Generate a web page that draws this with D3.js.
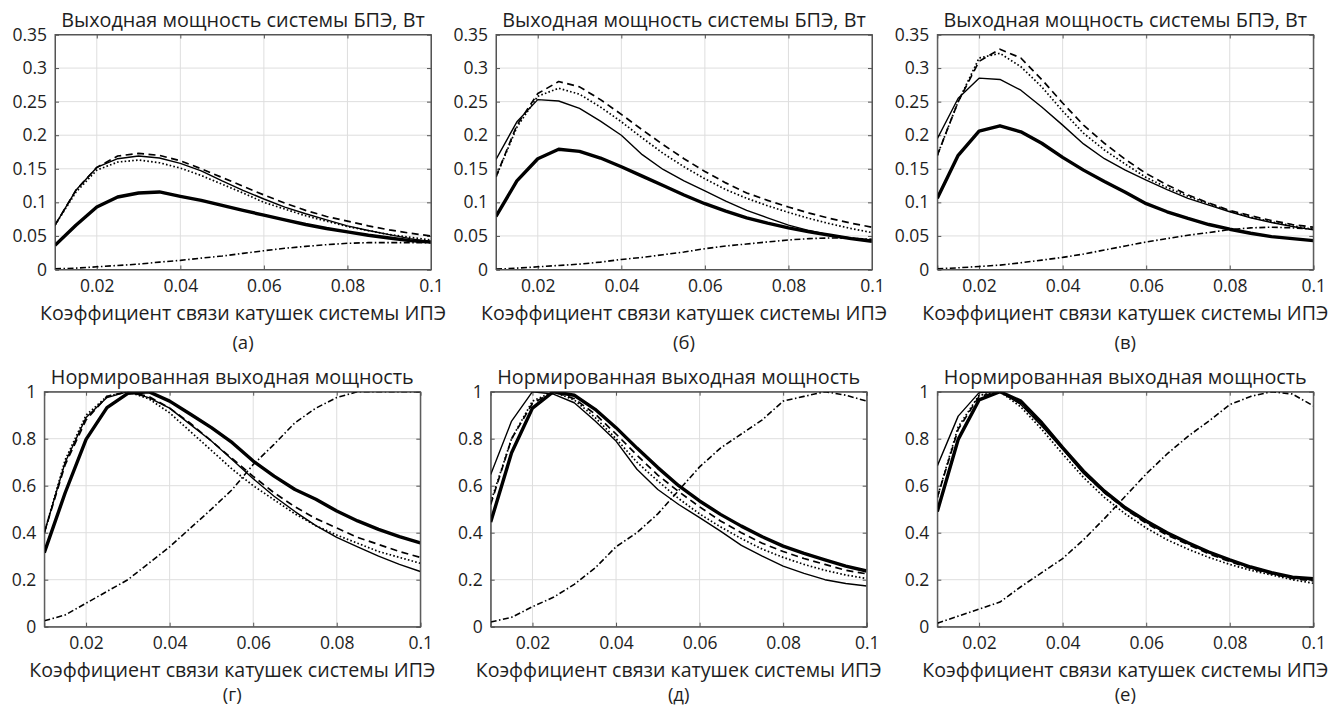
<!DOCTYPE html>
<html>
<head>
<meta charset="utf-8">
<script src="https://cdn.jsdelivr.net/npm/d3@7"></script>
<style>
  body{margin:0;background:#fff;}
  text{font-family:'Open Sans',sans-serif;fill:#1e1e1e;}
</style>
</head>
<body>
<div class="canvas"></div>
<script>
// coupling coefficient (x axis), same for all panels
const kValues=[0.01,0.015,0.02,0.025,0.03,0.035,0.04,0.045,0.05,0.055,0.06,0.065,0.07,0.075,0.08,0.085,0.09,0.095,0.1];

// output power, W  (a)
const aThick=[0.036,0.066,0.093,0.108,0.114,0.1155,0.109,0.103,0.0955,0.088,0.081,0.074,0.067,0.061,0.056,0.051,0.047,0.043,0.041];
const aThin=[0.066,0.118,0.152,0.165,0.169,0.166,0.158,0.147,0.132,0.118,0.105,0.093,0.083,0.074,0.065,0.058,0.052,0.046,0.041];
const aDash=[0.066,0.118,0.152,0.169,0.173,0.170,0.162,0.150,0.137,0.124,0.111,0.099,0.088,0.079,0.072,0.065,0.059,0.054,0.050];
const aDot=[0.066,0.115,0.148,0.160,0.163,0.159,0.151,0.140,0.127,0.114,0.100,0.090,0.080,0.072,0.064,0.058,0.052,0.048,0.044];
const aDashDot=[0.001,0.002,0.004,0.006,0.008,0.011,0.0136,0.017,0.020,0.024,0.028,0.0316,0.0344,0.037,0.039,0.040,0.040,0.040,0.040];

// output power, W  (б)
const bThick=[0.079,0.132,0.165,0.179,0.176,0.166,0.153,0.139,0.125,0.111,0.098,0.087,0.077,0.069,0.062,0.056,0.051,0.046,0.042];
const bThin=[0.164,0.220,0.253,0.251,0.240,0.221,0.200,0.171,0.149,0.132,0.117,0.102,0.088,0.077,0.066,0.058,0.051,0.047,0.044];
const bDash=[0.138,0.215,0.262,0.280,0.272,0.253,0.231,0.208,0.186,0.165,0.146,0.129,0.114,0.103,0.093,0.084,0.076,0.069,0.063];
const bDot=[0.138,0.212,0.258,0.270,0.261,0.242,0.220,0.196,0.173,0.153,0.135,0.119,0.106,0.095,0.085,0.076,0.068,0.061,0.055];
const bDashDot=[0.0005,0.002,0.004,0.006,0.008,0.011,0.015,0.018,0.022,0.026,0.031,0.035,0.038,0.041,0.044,0.046,0.047,0.0465,0.045];

// output power, W  (в)
const cThick=[0.106,0.170,0.206,0.214,0.205,0.188,0.167,0.148,0.131,0.115,0.098,0.086,0.076,0.067,0.060,0.054,0.049,0.046,0.043];
const cThin=[0.195,0.255,0.285,0.283,0.267,0.242,0.215,0.187,0.165,0.148,0.133,0.119,0.106,0.096,0.086,0.077,0.070,0.064,0.059];
const cDash=[0.17,0.25,0.310,0.328,0.315,0.283,0.248,0.215,0.188,0.164,0.143,0.126,0.111,0.099,0.088,0.080,0.073,0.067,0.063];
const cDot=[0.17,0.25,0.315,0.322,0.302,0.272,0.236,0.203,0.178,0.157,0.137,0.122,0.109,0.098,0.087,0.078,0.071,0.065,0.060];
const cDashDot=[0.001,0.0025,0.0045,0.0065,0.010,0.014,0.018,0.023,0.029,0.035,0.041,0.046,0.051,0.055,0.0595,0.062,0.063,0.062,0.060];

// normalized output power  (г)
const dThick=[0.315,0.57,0.797,0.932,0.993,1.0,0.96,0.904,0.847,0.783,0.705,0.641,0.584,0.542,0.492,0.45,0.414,0.383,0.357];
const dThin=[0.40,0.70,0.89,0.975,1.0,0.975,0.93,0.86,0.79,0.71,0.63,0.555,0.49,0.43,0.38,0.34,0.30,0.265,0.235];
const dDash=[0.40,0.69,0.88,0.98,1.0,0.98,0.93,0.865,0.79,0.715,0.64,0.57,0.51,0.46,0.42,0.38,0.35,0.32,0.295];
const dDot=[0.40,0.71,0.90,0.98,1.0,0.97,0.91,0.83,0.75,0.67,0.60,0.54,0.48,0.43,0.39,0.355,0.32,0.295,0.27];
const dDashDot=[0.025,0.05,0.10,0.15,0.20,0.27,0.34,0.42,0.50,0.584,0.69,0.776,0.868,0.93,0.975,1.0,1.0,1.0,1.0];

// normalized output power  (д)
const eThick=[0.445,0.74,0.93,1.0,0.985,0.925,0.847,0.76,0.677,0.60,0.535,0.478,0.428,0.383,0.343,0.312,0.284,0.258,0.237];
const eThin=[0.648,0.875,1.0,0.99,0.953,0.875,0.79,0.67,0.584,0.52,0.464,0.407,0.346,0.30,0.258,0.227,0.20,0.184,0.173];
const eDash=[0.52,0.80,0.95,1.0,0.97,0.905,0.82,0.73,0.645,0.575,0.51,0.45,0.40,0.355,0.32,0.29,0.265,0.24,0.225];
const eDot=[0.53,0.80,0.96,1.0,0.965,0.89,0.80,0.70,0.62,0.545,0.48,0.425,0.375,0.33,0.295,0.265,0.24,0.22,0.205];
const eDashDot=[0.02,0.04,0.085,0.125,0.18,0.25,0.34,0.40,0.48,0.58,0.68,0.76,0.82,0.88,0.96,0.98,1.0,0.985,0.96];

// normalized output power  (е)
const fThick=[0.49,0.797,0.965,1.0,0.96,0.868,0.762,0.662,0.577,0.506,0.45,0.40,0.357,0.318,0.284,0.254,0.23,0.211,0.204];
const fThin=[0.684,0.896,0.996,1.0,0.946,0.854,0.755,0.652,0.57,0.502,0.445,0.397,0.355,0.315,0.281,0.251,0.227,0.208,0.199];
const fDash=[0.55,0.84,0.98,1.0,0.95,0.86,0.76,0.655,0.57,0.50,0.44,0.39,0.35,0.31,0.277,0.248,0.225,0.205,0.195];
const fDot=[0.55,0.85,0.985,1.0,0.935,0.84,0.735,0.635,0.55,0.48,0.42,0.37,0.33,0.295,0.265,0.24,0.22,0.20,0.185];
const fDashDot=[0.015,0.045,0.075,0.105,0.17,0.23,0.29,0.37,0.46,0.555,0.65,0.735,0.81,0.875,0.945,0.98,1.0,0.99,0.94];

// ticks and texts
const xTicks=[0.02,0.04,0.06,0.08,0.1];
const powerTicks=[0,0.05,0.1,0.15,0.2,0.25,0.3,0.35];
const normTicks=[0,0.2,0.4,0.6,0.8,1];
const titleTop='Выходная мощность системы БПЭ, Вт';
const titleBottom='Нормированная выходная мощность';
const xLabel='Коэффициент связи катушек системы ИПЭ';
const panelLetters=['(а)','(б)','(в)','(г)','(д)','(е)'];

// line styles: thick solid, thin solid, dashed, dotted, dash-dot
const styles=[
  {w:3.4,dash:null},
  {w:1.4,dash:null},
  {w:1.7,dash:'7,4.5'},
  {w:1.7,dash:'1.6,2.2'},
  {w:1.6,dash:'6,2.5,1.5,2.5'}
];

const panels=[
  {left:55,top:34.5,series:[aThick,aThin,aDash,aDot,aDashDot],yMax:0.35,yTicks:powerTicks,title:titleTop},
  {left:496,top:34.5,series:[bThick,bThin,bDash,bDot,bDashDot],yMax:0.35,yTicks:powerTicks,title:titleTop},
  {left:937.3,top:34.5,series:[cThick,cThin,cDash,cDot,cDashDot],yMax:0.35,yTicks:powerTicks,title:titleTop},
  {left:44.3,top:391.7,series:[dThick,dThin,dDash,dDot,dDashDot],yMax:1,yTicks:normTicks,title:titleBottom},
  {left:490.7,top:391.7,series:[eThick,eThin,eDash,eDot,eDashDot],yMax:1,yTicks:normTicks,title:titleBottom},
  {left:937.3,top:391.7,series:[fThick,fThin,fDash,fDot,fDashDot],yMax:1,yTicks:normTicks,title:titleBottom}
];
const W=376,H=235;

const svg=d3.select('.canvas').append('svg')
  .attr('width',1330)
  .attr('height',709);

const fmt=d=>d3.format('')(+d.toFixed(2));

panels.forEach((p,i)=>{
  const x=d3.scaleLinear().domain([0.01,0.1]).range([0,W]);
  const y=d3.scaleLinear().domain([0,p.yMax]).range([H,0]);
  const g=svg.append('g').attr('transform',`translate(${p.left},${p.top})`);

  g.append('clipPath').attr('id','clip'+i)
    .append('rect').attr('width',W).attr('height',H);

  // grid
  g.append('g').selectAll('line').data(xTicks).join('line')
    .attr('x1',d=>x(d)).attr('x2',d=>x(d))
    .attr('y1',0).attr('y2',H)
    .attr('stroke','#dedede').attr('stroke-width',1);
  g.append('g').selectAll('line').data(p.yTicks).join('line')
    .attr('x1',0).attr('x2',W)
    .attr('y1',d=>y(d)).attr('y2',d=>y(d))
    .attr('stroke','#dedede').attr('stroke-width',1);

  // axes (ticks inward, like matlab)
  g.append('g').attr('transform',`translate(0,${H})`)
    .call(d3.axisBottom(x).tickValues(xTicks).tickSize(-4).tickPadding(10).tickFormat(fmt));
  g.append('g')
    .call(d3.axisLeft(y).tickValues(p.yTicks).tickSize(-4).tickPadding(8).tickFormat(fmt));
  g.append('g').call(d3.axisTop(x).tickValues(xTicks).tickSize(-4).tickFormat(''));
  g.append('g').attr('transform',`translate(${W},0)`)
    .call(d3.axisRight(y).tickValues(p.yTicks).tickSize(-4).tickFormat(''));
  g.selectAll('.domain').attr('stroke','#555');
  g.selectAll('.tick line').attr('stroke','#555');
  g.selectAll('.tick text').style('font-size','17.5px').attr('fill','#1e1e1e').style('font-family',"'Open Sans',sans-serif");

  // curves
  const line=d3.line().x((d,j)=>x(kValues[j])).y(d=>y(d));
  const lines=g.append('g').attr('clip-path',`url(#clip${i})`);
  p.series.forEach((s,k)=>{
    lines.append('path')
      .datum(s)
      .attr('d',line)
      .attr('fill','none')
      .attr('stroke','#000')
      .attr('stroke-width',styles[k].w)
      .attr('stroke-dasharray',styles[k].dash)
      .attr('stroke-linejoin','round');
  });

  // box
  g.append('rect').attr('width',W).attr('height',H)
    .attr('fill','none').attr('stroke','#555').attr('stroke-width',1);

  // texts
  g.append('text')
    .attr('x',W/2).attr('y',-8)
    .attr('text-anchor','middle')
    .style('font-size','19.8px')
    .text(p.title);
  g.append('text')
    .attr('x',W/2).attr('y',H+50)
    .attr('text-anchor','middle')
    .style('font-size','19.6px')
    .text(xLabel);
  g.append('text')
    .attr('x',W/2).attr('y',i<3?H+79:H+74)
    .attr('text-anchor','middle')
    .style('font-size','18.5px')
    .text(panelLetters[i]);
});
</script>
</body>
</html>
